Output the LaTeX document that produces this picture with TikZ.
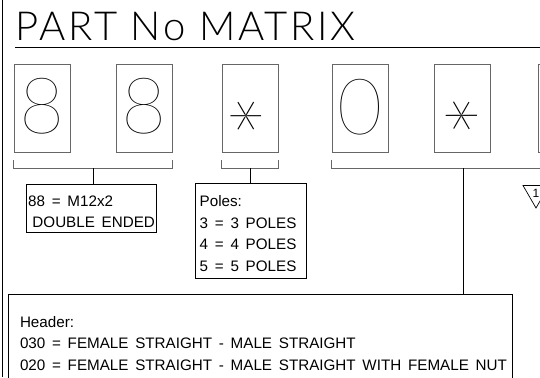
\documentclass[tikz,border=0pt]{standalone}
\usepackage{fontspec}
\setmainfont{Liberation Sans}[WordSpace=1.6]
\newfontfamily\titlefont{Lato}[UprightFont={* Light}, LetterSpace=7]
\newfontfamily\glyphfont{Lato}[UprightFont={* Thin}]
\usetikzlibrary{calc,shapes.geometric}

\tikzset{
  digitbox/.style={draw=black!60, line width=0.8pt, minimum width=56pt, minimum height=88pt, inner sep=0pt},
  bigglyph/.style={inner sep=0pt, font=\glyphfont\fontsize{78}{78}\selectfont},
  starglyph/.style={inner sep=0pt, anchor=base, font=\glyphfont\fontsize{110}{110}\selectfont},
  notebox/.style={draw, line width=0.7pt, anchor=north west, inner sep=0pt},
  notetext/.style={anchor=north west, inner sep=0pt, align=left, font=\fontsize{15.2}{21.5}\selectfont},
  bracket/.style={draw=black!60, line width=0.8pt},
  stem/.style={draw, line width=0.7pt},
}

\begin{document}
\begin{tikzpicture}[x=1pt,y=-1pt]
  \useasboundingbox (0,0) rectangle (540,377);
  \draw[line width=0.8pt] (2.5,0) -- (2.5,377);

  % title
  \node[anchor=base west, inner sep=0pt, font=\titlefont\fontsize{40}{40}\selectfont] (title) at (15,41) {PART No MATRIX};
  \draw[line width=0.7pt] ([yshift=-6pt]title.base west) -- ++(530,0);

  % digit boxes
  \node[digitbox] (d1) at (42,108) {};
  \node[digitbox] (d2) at (144,108) {};
  \node[digitbox] (d3) at (250,108) {};
  \node[digitbox] (d4) at (360,108) {};
  \node[digitbox] (d5) at (462,108) {};
  \node[digitbox] (d6) at (566,108) {};

  \node[bigglyph] (g1) at ([yshift=2pt]d1.center) {8};
  \node[bigglyph] (g2) at ([yshift=2pt]d2.center) {8};
  \node[starglyph, rotate=90] (g3) at ([xshift=62pt, yshift=-8pt]d3.center) {*};
  \node[bigglyph] (g4) at ([yshift=1pt]d4.center) {0};
  \node[starglyph, rotate=-30] (g5) at ([xshift=-33pt, yshift=-65.2pt]d5.center) {*};

  % brackets under the boxes
  \draw[bracket] ([yshift=-8pt]d1.south west) |- ([yshift=-16pt]d2.south east) -- ([yshift=-8pt]d2.south east);
  \draw[bracket] ([yshift=-8pt]d3.south west) |- ([yshift=-16pt]d3.south east) -- ([yshift=-8pt]d3.south east);
  \draw[bracket] ([yshift=-8pt]d4.south west) |- ([yshift=-16pt]d6.south east) -- ([yshift=-8pt]d6.south east);
  \coordinate (s1) at ($(d1.south west)!.5!(d2.south east)+(0,16)$);
  \coordinate (s2) at ($(d3.south west)!.5!(d3.south east)+(0,16)$);
  \coordinate (s3) at ($(d4.south west)!.5!(d6.south east)+(0,16)$);

  % notes
  \node[notebox, minimum width=130pt, minimum height=48pt] (code88) at (26,184) {};
  \node[notetext] (code88txt) at (28,195.5) {88 = M12x2\\\hspace*{0.28em}DOUBLE ENDED};
  \node[notebox, minimum width=111pt, minimum height=95pt] (poles) at (195,183) {};
  \node[notetext] (polestxt) at (199.5,195.5) {Poles:\\3 = 3 POLES\\4 = 4 POLES\\5 = 5 POLES};
  \node[notebox, minimum width=504pt, minimum height=110pt] (header) at (7.5,294) {};
  \node[notetext] (headertxt) at (19.8,315.8) {Header:\\030 = FEMALE STRAIGHT - MALE STRAIGHT\\020 = FEMALE STRAIGHT - MALE STRAIGHT WITH FEMALE NUT};

  \draw[stem] (s1) -- (s1 |- code88.north);
  \draw[stem] (s2) -- (s2 |- poles.north);
  \draw[stem] (s3) -- (s3 |- header.north);

  % revision mark
  \node[regular polygon, regular polygon sides=3, shape border rotate=180, draw, line width=0.7pt, minimum size=30pt, inner sep=0pt, font=\fontsize{12}{12}\selectfont] (rev) at (536,193) {1};
\end{tikzpicture}
\end{document}
